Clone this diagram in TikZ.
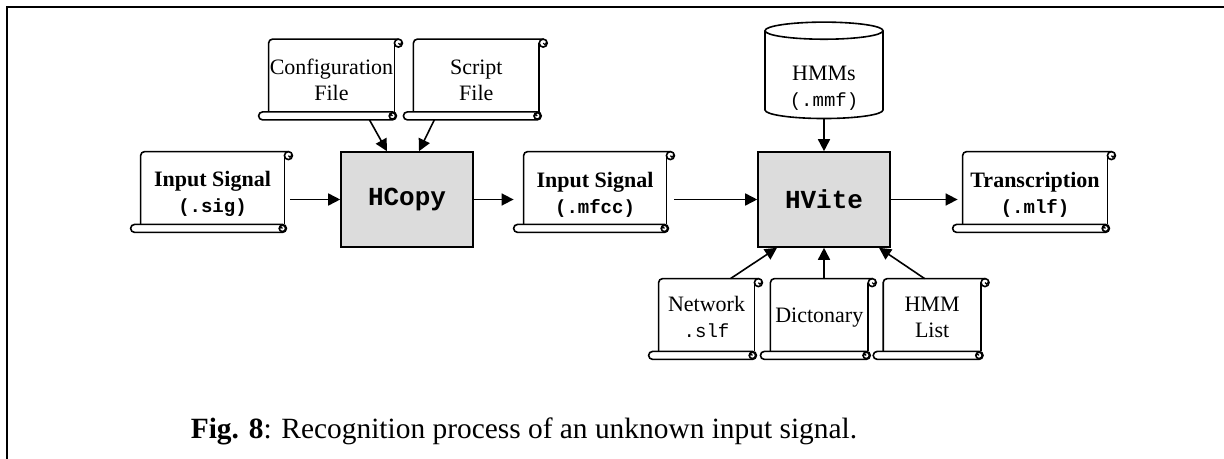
\documentclass[tikz,border=0pt]{standalone}
\usepackage{fontspec}
\setmainfont{Liberation Serif}
\setmonofont{Liberation Mono}
\usetikzlibrary{arrows.meta,positioning,shapes.geometric}
\definecolor{ToolGray}{HTML}{DCDCDC}
% file extensions in typewriter
\newcommand{\fext}[1]{{\ttfamily\fontsize{9.5}{13}\selectfont #1}}
% pushes the first line of a label down a little
\newcommand{\lift}[1]{\rule{0pt}{#1}}
\tikzset{
  scrollline/.style={line width=0.8pt},
  scroll/.style={draw=none,inner sep=0pt,minimum height=36pt,align=center,
    font=\fontsize{11}{13}\selectfont,
    append after command={\pgfextra{
      % sheet with its curled top corner
      \draw[scrollline,rounded corners=2pt] (\tikzlastnode.south west)
        -- (\tikzlastnode.north west) -- ([xshift=2pt]\tikzlastnode.north east);
      \draw[scrollline] ([yshift=-2pt]\tikzlastnode.north east) -- (\tikzlastnode.south east);
      \draw[scrollline] ([shift={(2pt,-2pt)}]\tikzlastnode.north east) circle[radius=2pt];
      \draw[line width=0.6pt] ([shift={(2pt,-2pt)}]\tikzlastnode.north east)
        arc[start angle=180,end angle=400,radius=0.8pt];
      % roll at the bottom
      \draw[scrollline,fill=white,rounded corners=2pt] ([xshift=-5pt]\tikzlastnode.south west)
        rectangle ([shift={(1pt,-4pt)}]\tikzlastnode.south east);
      \draw[scrollline] ([shift={(-1pt,-2pt)}]\tikzlastnode.south east) circle[radius=1.6pt];
      \draw[line width=0.6pt] ([shift={(-1pt,-2pt)}]\tikzlastnode.south east)
        arc[start angle=0,end angle=220,radius=0.7pt];
    }}},
  tool/.style={draw,line width=0.8pt,fill=ToolGray,minimum width=66pt,minimum height=47.5pt,
    inner sep=0pt,font=\fontsize{13}{15}\selectfont\ttfamily\bfseries},
  store/.style={cylinder,shape border rotate=90,aspect=0.25,draw,line width=0.8pt,
    minimum width=59pt,minimum height=47pt,inner sep=0pt,align=center,
    font=\fontsize{11}{13}\selectfont},
  arrow/.style={-{Triangle[length=6pt,width=6pt]},line width=0.8pt}
}
\begin{document}
\begin{tikzpicture}[x=0.5pt,y=-0.5pt]
  \useasboundingbox (0,0) rectangle (1224,459);
  \draw[line width=1.2pt] (7,459) -- (7,7) -- (1224,7);

  % front end
  \node[scroll,minimum width=71.5pt] (sig) at (212.5,188)
    {\lift{14pt}\textbf{Input Signal}\\\fext{\textbf{(.sig)}}};
  \node[scroll,minimum width=62.5pt] (config) at (331.5,75.5) {\lift{12pt}Configuration\\File};
  \node[scroll,minimum width=62.5pt,right=9.5pt of config] (script) {\lift{12pt}Script\\File};
  \node[tool] (hcopy) at (407,199.5) {HCopy};
  \node[scroll,minimum width=71pt] (mfcc) at (595,188)
    {\lift{14pt}\textbf{Input Signal}\\\fext{\textbf{(.mfcc)}}};

  % recogniser
  \node[tool] (hvite) at (824,199.5) {HVite};
  \node[store] (hmms) at (824,75) {\lift{20pt}HMMs\\\fext{(.mmf)}};
  \node[scroll,minimum width=72pt] (trans) at (1035,188)
    {\lift{14pt}\textbf{Transcription}\\\fext{\textbf{(.mlf)}}};
  \node[scroll,minimum width=47.5pt] (network) at (706.5,315) {\lift{10pt}Network\\\fext{.slf}};
  \node[scroll,minimum width=48.5pt,right=8pt of network] (dict) {\lift{10pt}Dictonary};
  \node[scroll,minimum width=48.5pt,right=7.5pt of dict] (hmmlist) {\lift{10pt}HMM\\List};

  \draw[arrow,shorten <=3pt] (sig.east |- hcopy) -- (hcopy.west);
  \draw[arrow] ([shift={(19pt,-4pt)}]config.south) -- ([xshift=-10pt]hcopy.north);
  \draw[arrow] ([shift={(-21pt,-4pt)}]script.south) -- ([xshift=6pt]hcopy.north);
  \draw[arrow,shorten >=5pt] (hcopy.east) -- (hcopy.east -| mfcc.west);
  \draw[arrow,shorten <=4pt] (mfcc.east |- hvite) -- (hvite.west);
  \draw[arrow] (hmms.south) -- (hvite.north);
  \draw[arrow,shorten >=2.5pt] (hvite.east) -- (hvite.east -| trans.west);
  \draw[arrow] ([xshift=12pt]network.north) -- ([xshift=-23.5pt]hvite.south);
  \draw[arrow] (dict.north -| hvite.south) -- (hvite.south);
  \draw[arrow] ([xshift=-3.75pt]hmmlist.north) -- ([xshift=27.5pt]hvite.south);

  \node[font=\fontsize{14.7}{17}\selectfont] (caption) at (524,431)
    {\textbf{Fig. 8}: Recognition process of an unknown input signal.};
\end{tikzpicture}
\end{document}
